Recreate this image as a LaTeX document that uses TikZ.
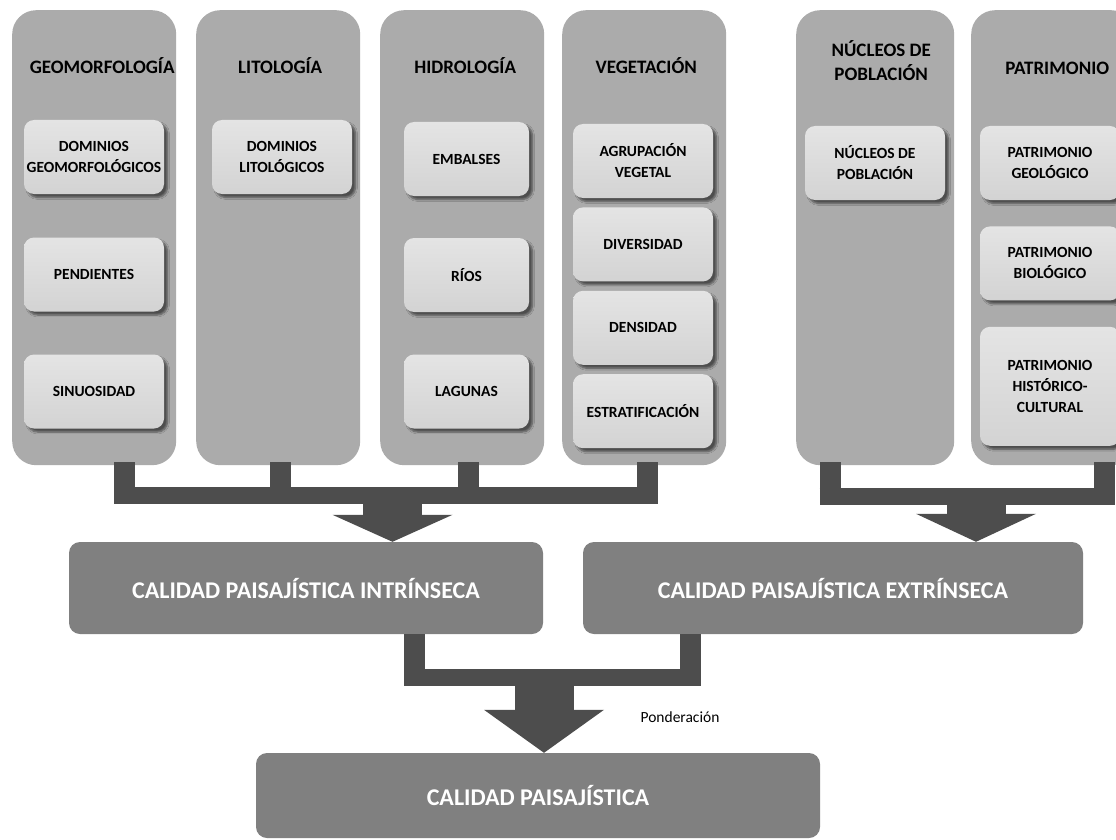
\documentclass[tikz,border=0pt]{standalone}
\usepackage{fontspec}
\setmainfont{Carlito}
\usetikzlibrary{arrows.meta, positioning, shadows.blur}

\definecolor{themegray}{HTML}{ABABAB}
\definecolor{factortop}{HTML}{E4E4E4}
\definecolor{factorbottom}{HTML}{D3D3D3}
\definecolor{qualitygray}{HTML}{808080}
\definecolor{jointgray}{HTML}{4D4D4D}

\begin{document}
\begin{tikzpicture}[
    x=1pt, y=-1pt,
    every node/.style={font=\bfseries, align=center, inner sep=0pt},
    theme/.style={rectangle, fill=themegray, rounded corners=24pt, minimum width=164pt, minimum height=455pt, anchor=north west},
    heading/.style={font=\fontsize{19}{24}\selectfont\bfseries},
    factor/.style={rectangle, rounded corners=10pt, top color=factortop, bottom color=factorbottom, minimum width=140pt, minimum height=74pt,
        font=\fontsize{15.5}{21}\selectfont\bfseries,
        blur shadow={shadow xshift=3.5pt, shadow yshift=-3.5pt, shadow blur steps=6, shadow opacity=55}},
    quality/.style={rectangle, fill=qualitygray, rounded corners=11pt, minimum height=92pt, text=white, font=\fontsize{24}{28}\selectfont\bfseries},
    stub/.style={draw=jointgray, line width=21pt},
    joint/.style={draw=jointgray, line width=17pt, shorten <=-10.5pt, shorten >=-10.5pt},
    flow/.style={draw=jointgray, line width=59pt, -{Triangle[width=120pt, length=#1, line width=0pt]}},
    flow/.default=27pt
]
\useasboundingbox (0,0) rectangle (1116,840);
\fill[white] (0,0) rectangle (1116,840);
\clip (0,0) rectangle (1116,840);

% Columns
\node[theme] (geo) at (12,10) {};
\node[theme] (lito) at (196,10) {};
\node[theme] (hidro) at (380,10) {};
\node[theme] (vege) at (562,10) {};
\node[theme, minimum width=158pt] (nuc) at (796,10) {};
\node[theme] (patr) at (971,10) {};

\node[heading] (geoT) at ([xshift=8pt, yshift=-56pt]geo.north) {GEOMORFOLOGÍA};
\node[heading] (litoT) at ([xshift=2pt, yshift=-56pt]lito.north) {LITOLOGÍA};
\node[heading] (hidroT) at ([xshift=3pt, yshift=-56pt]hidro.north) {HIDROLOGÍA};
\node[heading] (vegeT) at ([xshift=2pt, yshift=-56pt]vege.north) {VEGETACIÓN};
\node[heading] (nucT) at ([xshift=6pt, yshift=-51pt]nuc.north) {NÚCLEOS DE\\POBLACIÓN};
\node[heading] (patrT) at ([xshift=4pt, yshift=-58pt]patr.north) {PATRIMONIO};

% Factors
\node[factor] (geo1) at (94,157) {DOMINIOS\\GEOMORFOLÓGICOS};
\node[factor] (geo2) at (94,274.5) {PENDIENTES};
\node[factor] (geo3) at (94,391.5) {SINUOSIDAD};
\node[factor] (lito1) at (282,157) {DOMINIOS\\LITOLÓGICOS};
\node[factor, minimum width=125pt] (hidro1) at (466.5,159) {EMBALSES};
\node[factor, minimum width=125pt] (hidro2) at (466.5,275) {RÍOS};
\node[factor, minimum width=125pt] (hidro3) at (466.5,391.5) {LAGUNAS};
\node[factor] (vege1) at (643,161) {AGRUPACIÓN\\VEGETAL};
\node[factor, below=9pt of vege1] (vege2) {DIVERSIDAD};
\node[factor, below=9pt of vege2] (vege3) {DENSIDAD};
\node[factor, below=9pt of vege3] (vege4) {ESTRATIFICACIÓN};
\node[factor] (nuc1) at (875,163) {NÚCLEOS DE\\POBLACIÓN};
\node[factor] (patr1) at (1050,163) {PATRIMONIO\\GEOLÓGICO};
\node[factor, below=26pt of patr1] (patr2) {PATRIMONIO\\BIOLÓGICO};
\node[factor, below=26pt of patr2, minimum height=119pt] (patr3) {PATRIMONIO\\HISTÓRICO-\\CULTURAL};

% Quality boxes
\node[quality, minimum width=474pt] (intr) at (306,588) {CALIDAD PAISAJÍSTICA INTRÍNSECA};
\node[quality, minimum width=500pt] (extr) at (833,588) {CALIDAD PAISAJÍSTICA EXTRÍNSECA};
\node[quality, minimum width=564pt, minimum height=85pt] (total) at (538,795.5) {CALIDAD PAISAJÍSTICA};
\node[font=\fontsize{15.5}{18}\selectfont] (pond) at (680,717) {Ponderación};

% Intrinsic joint
\coordinate (j1) at (0,495);
\foreach \c/\dx in {geo/30.5, lito/2, hidro/6, vege/3.5}
    \draw[stub] ([xshift=\dx pt, yshift=3pt]\c.south) -- ([xshift=\dx pt]\c.south |- j1);
\draw[joint] ([xshift=30.5pt]geo.south |- j1) -- ([xshift=3.5pt]vege.south |- j1);
\coordinate (a1) at (392.5,495);
\draw[flow] (a1) -- (a1 |- intr.north);

% Extrinsic joint
\coordinate (j2) at (0,496);
\foreach \c/\dx in {nuc/-45, patr/51.5}
    \draw[stub] ([xshift=\dx pt, yshift=3pt]\c.south) -- ([xshift=\dx pt]\c.south |- j2);
\draw[joint] ([xshift=-45pt]nuc.south |- j2) -- ([xshift=51.5pt]patr.south |- j2);
\coordinate (a2) at (976,496);
\draw[flow=28pt] (a2) -- (a2 |- extr.north);

% Weighting
\coordinate (j3) at (0,677.5);
\foreach \c/\dx in {intr/108.5, extr/-142.5}
    \draw[stub] ([xshift=\dx pt]\c.south) -- ([xshift=\dx pt]\c.south |- j3);
\draw[joint] ([xshift=108.5pt]intr.south |- j3) -- ([xshift=-142.5pt]extr.south |- j3);
\coordinate (a3) at (544,677.5);
\draw[flow=43pt] (a3) -- (a3 |- total.north);

\end{tikzpicture}
\end{document}
